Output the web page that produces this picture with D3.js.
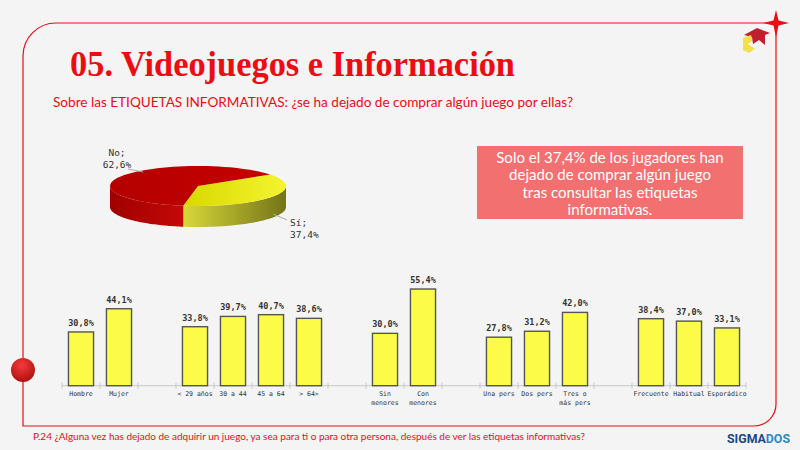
<!DOCTYPE html>
<html>
<head>
<meta charset="utf-8">
<script src="https://d3js.org/d3.v7.min.js"></script>
<style>
body { margin: 0; background: #f4f4f4; }
svg { display: block; }
</style>
</head>
<body>
<div id="chart"></div>
<script>
// pie data
var pieLabels = ["Sí", "No"];
var pieValues = [37.4, 62.6];

// bar data ("" = gap between groups)
var categories = ["Hombre", "Mujer", "", "< 29 años", "30 a 44", "45 a 64", "> 64>", "",
  "Sin\nmenores", "Con\nmenores", "", "Una pers", "Dos pers", "Tres o\nmás pers", "",
  "Frecuente", "Habitual", "Esporádico"];
var values = [30.8, 44.1, null, 33.8, 39.7, 40.7, 38.6, null,
  30.0, 55.4, null, 27.8, 31.2, 42.0, null,
  38.4, 37.0, 33.1];

var W = 800, H = 450;
var red = "#ec0c12";

var svg = d3.select("#chart").append("svg")
  .attr("width", W).attr("height", H);

var defs = svg.append("defs");

// frame
svg.append("path")
  .attr("d", "M23,426 V56 A33,33 0 0 1 56,23 H776 V404 A22,22 0 0 1 754,426 Z")
  .attr("fill", "none").attr("stroke", red).attr("stroke-width", 1.2);

// star on corner
svg.append("path")
  .attr("d", "M776,10 L778.5,20.5 L789,23 L778.5,25.5 L776,37 L773.5,25.5 L763,23 L773.5,20.5 Z")
  .attr("fill", red);

// red ball on left line
var rg = defs.append("radialGradient").attr("id", "ball").attr("cx", "45%").attr("cy", "30%").attr("r", "70%");
rg.append("stop").attr("offset", "0%").attr("stop-color", "#f43a3a");
rg.append("stop").attr("offset", "100%").attr("stop-color", "#b01010");
svg.append("circle").attr("cx", 23).attr("cy", 370).attr("r", 12).attr("fill", "url(#ball)");

// logo
svg.append("polygon")
  .attr("points", "744,35 757,28 770,33 765,35 765,45 759,40 753,44 752,37")
  .attr("fill", "#c0202e");
svg.append("polygon")
  .attr("points", "743,38 751,35 752,41 748,44 755,49 749,53 743,50")
  .attr("fill", "#f2e04a");

// title
svg.append("text")
  .attr("x", 70).attr("y", 76)
  .attr("font-family", "'Liberation Serif', serif")
  .attr("font-weight", "bold").attr("font-size", 35)
  .attr("fill", red)
  .attr("textLength", 445).attr("lengthAdjust", "spacingAndGlyphs")
  .text("05. Videojuegos e Información");

svg.append("text")
  .attr("x", 53).attr("y", 107)
  .attr("font-family", "Lato, sans-serif").attr("font-size", 13)
  .attr("fill", red)
  .attr("textLength", 520).attr("lengthAdjust", "spacingAndGlyphs")
  .text("Sobre las ETIQUETAS INFORMATIVAS: ¿se ha dejado de comprar algún juego por ellas?");

// ---- 3D pie ----
var cx = 198, cy = 186, rx = 88, ry = 20, depth = 21;
var a0 = 55 * Math.PI / 180;
var pie = d3.pie().sort(null).startAngle(a0).endAngle(a0 + 2 * Math.PI);
var arcs = pie(pieValues);

function pt(a, dy) {
  return [cx + rx * Math.sin(a), cy - ry * Math.cos(a) + (dy || 0)];
}
function arcPts(s, e, dy) {
  var n = 60, out = [];
  for (var i = 0; i <= n; i++) out.push(pt(s + (e - s) * i / n, dy));
  return out;
}

var sideCols = [["#d8d83a", "#747418"], ["#a00000", "#c40808"]];
var topCols = [["#d8d800", "#f4f430"], ["#b40000", "#c60000"]];
[0, 1].forEach(function(i) {
  var g = defs.append("linearGradient").attr("id", "side" + i);
  g.append("stop").attr("offset", "0%").attr("stop-color", sideCols[i][0]);
  g.append("stop").attr("offset", "100%").attr("stop-color", sideCols[i][1]);
  var t = defs.append("linearGradient").attr("id", "top" + i);
  t.append("stop").attr("offset", "0%").attr("stop-color", topCols[i][0]);
  t.append("stop").attr("offset", "100%").attr("stop-color", topCols[i][1]);
});

var line = d3.line();
// sides: only the front half (angles between PI/2 and 3PI/2) is visible
arcs.forEach(function(d, i) {
  [0, 2 * Math.PI].forEach(function(off) {
    var s = Math.max(d.startAngle, Math.PI / 2 + off);
    var e = Math.min(d.endAngle, 3 * Math.PI / 2 + off);
    if (e <= s) return;
    var p = arcPts(s, e, 0).concat(arcPts(e, s, depth));
    svg.append("path").attr("d", line(p) + "Z").attr("fill", "url(#side" + i + ")");
  });
});
// tops
arcs.forEach(function(d, i) {
  var p = [[cx, cy]].concat(arcPts(d.startAngle, d.endAngle, 0));
  svg.append("path").attr("d", line(p) + "Z").attr("fill", "url(#top" + i + ")");
});

// pie labels
var fmt = d3.formatLocale({decimal: ",", thousands: ".", grouping: [3], currency: ["", "€"]}).format(".1f");
var mono = "'DejaVu Sans Mono', monospace";
function pieLabel(x, y, lines, anchor) {
  var t = svg.append("text").attr("font-family", mono).attr("font-size", 9.5)
    .attr("fill", "#333").attr("text-anchor", anchor);
  lines.forEach(function(s, k) {
    t.append("tspan").attr("x", x).attr("y", y + k * 12).text(s);
  });
}
svg.append("path").attr("d", "M128,169 L143,172").attr("stroke", "#aaa").attr("fill", "none");
svg.append("path").attr("d", "M273,214 L287,220").attr("stroke", "#aaa").attr("fill", "none");
pieLabel(117, 156, [pieLabels[1] + ";", fmt(pieValues[1]) + "%"], "middle");
pieLabel(290, 226, [pieLabels[0] + ";", fmt(pieValues[0]) + "%"], "start");

// callout box
svg.append("rect").attr("x", 477).attr("y", 146).attr("width", 266).attr("height", 73)
  .attr("fill", "#f37070");
var boxText = ["Solo el 37,4% de los jugadores han", "dejado de comprar algún juego",
  "tras consultar las etiquetas", "informativas."];
boxText.forEach(function(s, k) {
  svg.append("text").attr("x", 610).attr("y", 163 + k * 17.3)
    .attr("text-anchor", "middle").attr("font-family", "Lato, sans-serif")
    .attr("font-size", 15).attr("fill", "#fff").text(s);
});

// ---- bar chart ----
var base = 385.7;
var x = d3.scaleBand().domain(d3.range(categories.length)).range([62, 746])
  .paddingInner(0.34).paddingOuter(0.17);
var y = d3.scaleLinear().domain([0, 60]).range([base, base - 60 * 1.745]);

var axis = svg.append("g").attr("transform", "translate(0," + base + ")");
axis.append("line").attr("x1", 62).attr("x2", 746).attr("stroke", "#c8c8c8");
axis.selectAll(".tk").data(d3.range(categories.length + 1)).enter().append("line")
  .attr("x1", function(i) { return 62 + i * x.step(); })
  .attr("x2", function(i) { return 62 + i * x.step(); })
  .attr("y1", -3).attr("y2", 3).attr("stroke", "#c8c8c8");

var bars = values.map(function(v, i) { return {i: i, v: v, c: categories[i]}; })
  .filter(function(d) { return d.v != null; });

svg.selectAll(".bar").data(bars).enter().append("rect")
  .attr("x", function(d) { return x(d.i); })
  .attr("y", function(d) { return y(d.v); })
  .attr("width", x.bandwidth())
  .attr("height", function(d) { return base - y(d.v); })
  .attr("fill", "#fcfc48").attr("stroke", "#555").attr("stroke-width", 1.4);

svg.selectAll(".val").data(bars).enter().append("text")
  .attr("x", function(d) { return x(d.i) + x.bandwidth() / 2; })
  .attr("y", function(d) { return y(d.v) - 6; })
  .attr("text-anchor", "middle").attr("font-family", mono).attr("font-size", 8.5)
  .attr("font-weight", "bold").attr("fill", "#333")
  .text(function(d) { return fmt(d.v) + "%"; });

svg.selectAll(".cat").data(bars).enter().append("text")
  .attr("text-anchor", "middle").attr("font-family", mono).attr("font-size", 6.5)
  .attr("fill", "#333")
  .each(function(d) {
    var t = d3.select(this);
    d.c.split("\n").forEach(function(s, k) {
      t.append("tspan").attr("x", x(d.i) + x.bandwidth() / 2).attr("y", base + 10.5 + k * 8.5).text(s);
    });
  });

// footer
svg.append("text").attr("x", 33).attr("y", 440)
  .attr("font-family", "Lato, sans-serif").attr("font-size", 9.5).attr("fill", red)
  .attr("textLength", 552).attr("lengthAdjust", "spacingAndGlyphs")
  .text("P.24 ¿Alguna vez has dejado de adquirir un juego, ya sea para ti o para otra persona, después de ver las etiquetas informativas?");

var logo = svg.append("text").attr("x", 727).attr("y", 443)
  .attr("font-family", "'Roboto', sans-serif").attr("font-weight", "bold").attr("font-size", 12)
  .attr("textLength", 63).attr("lengthAdjust", "spacingAndGlyphs");
logo.append("tspan").attr("fill", "#1b4a86").text("SIGMA");
logo.append("tspan").attr("fill", "#2f86c6").text("DOS");
</script>
</body>
</html>
